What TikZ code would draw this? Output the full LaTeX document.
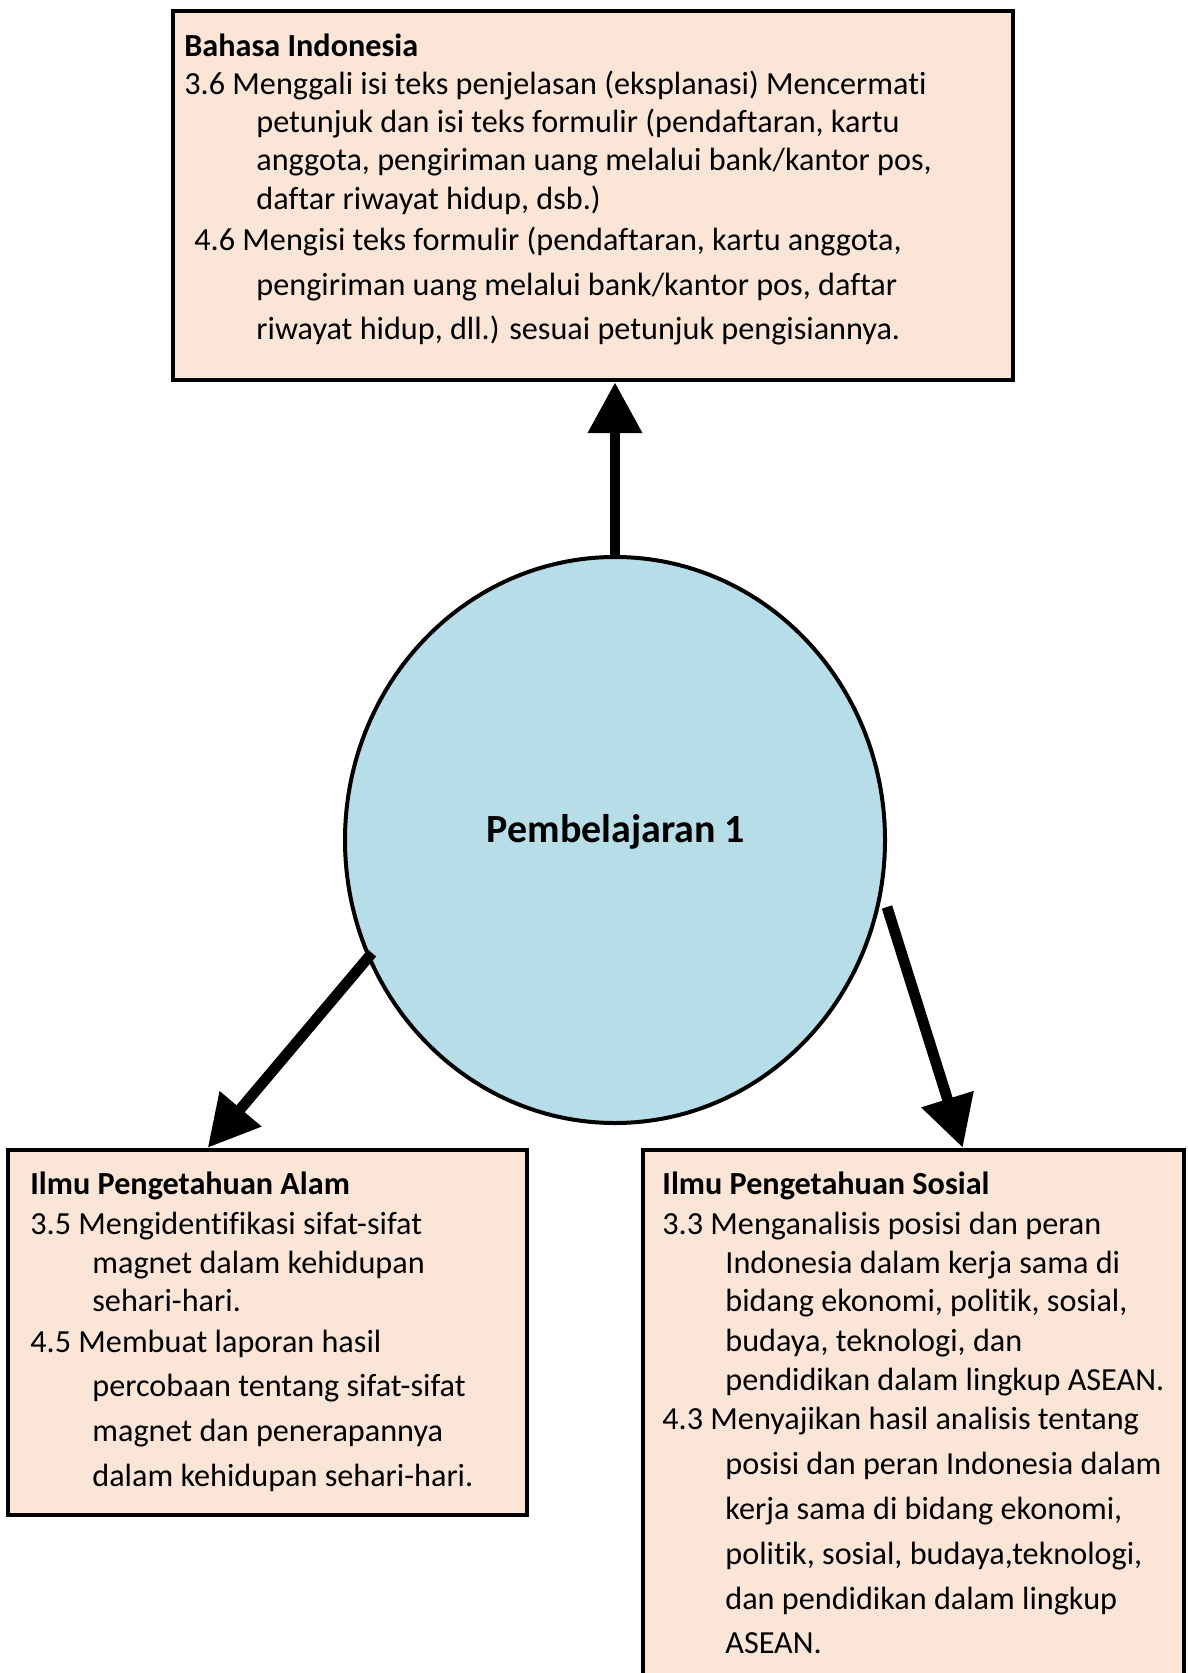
\documentclass[tikz,border=0pt]{standalone}
\usepackage{fontspec}
\setmainfont{Carlito}[RawFeature=-liga]
\usetikzlibrary{arrows.meta,shapes.geometric,calc}
\definecolor{peach}{HTML}{FBE5D6}
\definecolor{aqua}{HTML}{B7DDE8}
\begin{document}
\begin{tikzpicture}[x=0.5pt,y=-0.5pt,
  box/.style={draw=black,fill=peach,line width=2.25pt,inner sep=0pt,rectangle},
  txt/.style={anchor=base west,inner sep=0pt,font=\fontsize{16.1}{19}\selectfont},
  hd/.style={anchor=base west,inner sep=0pt,font=\fontsize{16.1}{19}\selectfont\bfseries},
  arr/.style={line width=5.4pt,-{Triangle[width=26pt,length=25.5pt]}},
]
\clip (0,0) rectangle (1187,1673);
\fill[white] (0,0) rectangle (1187,1673);

% boxes
\node[box,minimum width=420pt,minimum height=184.5pt] (top) at (593,195.5) {};
\node[box,minimum width=259.5pt,minimum height=182.5pt] (lbox) at (267.5,1332.5) {};
\node[box,minimum width=270.5pt,minimum height=275pt] (rbox) at (913.5,1425) {};

% circle
\node[ellipse,draw=black,fill=aqua,line width=2pt,inner sep=0pt,
      minimum width=270pt,minimum height=283pt] (c) at (615,840) {};
\node[anchor=base,inner sep=0pt,font=\fontsize{20}{24}\selectfont\bfseries] (ct) at (616,842) {Pembelajaran 1};

% top box text
\node[hd]  (t0) at (184,57)  {Bahasa Indonesia};
\node[txt] (t1) at (184,95)  {3.6 Menggali isi teks penjelasan (eksplanasi) Mencermati};
\node[txt] (t2) at (256,133) {petunjuk dan isi teks formulir (pendaftaran, kartu};
\node[txt] (t3) at (256,171) {anggota, pengiriman uang melalui bank/kantor pos,};
\node[txt] (t4) at (256,210) {daftar riwayat hidup, dsb.)};
\node[txt] (t5) at (194,251) {4.6 Mengisi teks formulir (pendaftaran, kartu anggota,};
\node[txt] (t6) at (256,296) {pengiriman uang melalui bank/kantor pos, daftar};
\node[txt] (t7) at (256,340) {riwayat hidup, dll.) sesuai petunjuk pengisiannya.};

% left box text
\node[hd]  (l0) at (30,1194) {Ilmu Pengetahuan Alam};
\node[txt] (l1) at (30,1234) {3.5 Mengidentifikasi sifat-sifat};
\node[txt] (l2) at (92,1273) {magnet dalam kehidupan};
\node[txt] (l3) at (92,1311) {sehari-hari.};
\node[txt] (l4) at (30,1352) {4.5 Membuat laporan hasil};
\node[txt] (l5) at (92,1396) {percobaan tentang sifat-sifat};
\node[txt] (l6) at (92,1441) {magnet dan penerapannya};
\node[txt] (l7) at (92,1486) {dalam kehidupan sehari-hari.};

% right box text
\node[hd]  (r0) at (662,1194) {Ilmu Pengetahuan Sosial};
\node[txt] (r1) at (662,1234) {3.3 Menganalisis posisi dan peran};
\node[txt] (r2) at (725,1273) {Indonesia dalam kerja sama di};
\node[txt] (r3) at (725,1311) {bidang ekonomi, politik, sosial,};
\node[txt] (r4) at (725,1351) {budaya, teknologi, dan};
\node[txt] (r5) at (725,1390) {pendidikan dalam lingkup ASEAN.};
\node[txt] (r6) at (662,1429) {4.3 Menyajikan hasil analisis tentang};
\node[txt] (r7) at (725,1474) {posisi dan peran Indonesia dalam};
\node[txt] (r8) at (725,1519) {kerja sama di bidang ekonomi,};
\node[txt] (r9) at (725,1564) {politik, sosial, budaya,teknologi,};
\node[txt] (r10) at (725,1609) {dan pendidikan dalam lingkup};
\node[txt] (r11) at (725,1653) {ASEAN.};

% arrows
\draw[arr] (c.north) -- (c.north |- top.south);
\draw[arr] ($(c.center)+(-243,113)$) -- ($(lbox.north west)+(202,0)$);
\draw[arr] ($(c.center)+(272,67)$) -- ($(rbox.north west)+(322,0)$);
\end{tikzpicture}
\end{document}
